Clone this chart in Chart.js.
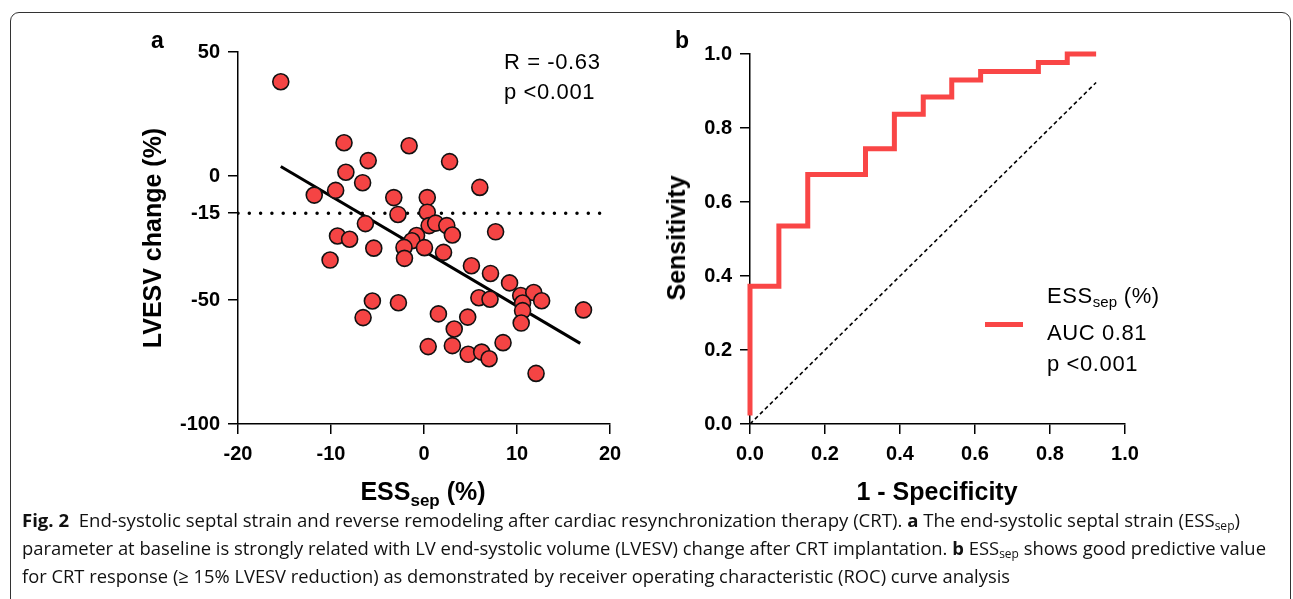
<!DOCTYPE html>
<html>
<head>
<meta charset="utf-8">
<script src="https://cdn.jsdelivr.net/npm/chart.js@4"></script>
<style>
  html, body { margin: 0; padding: 0; background: #fff; }
  body { width: 1293px; height: 599px; position: relative; overflow: hidden; font-family: "Liberation Sans", Arial, sans-serif; color: #000; }
  .frame { position: absolute; left: 10px; top: 12px; width: 1281px; height: 620px; border: 1px solid #333; border-radius: 9px; box-sizing: border-box; }
  canvas { position: absolute; }
  .txt { position: absolute; white-space: nowrap; }
  .panel { font-weight: bold; font-size: 23px; line-height: 30px; }
  .note { font-size: 22px; line-height: 30px; letter-spacing: 0.6px; }
  .axis-title { font-weight: bold; font-size: 25px; line-height: 30px; }
  .vtitle { transform: translate(-50%, -50%) rotate(-90deg); }
  .legend { font-size: 22px; line-height: 31px; letter-spacing: 0.6px; }
  .legend sub { font-size: 15px; vertical-align: -4px; letter-spacing: 0; }
  .axis-title sub { font-size: 17px; vertical-align: -6px; }
  .swatch { position: absolute; left: 985px; top: 322px; width: 38px; height: 5px; background: #f94646; }
  .caption { position: absolute; left: 22px; font-family: "Open Sans", sans-serif; font-size: 18.5px; line-height: 28px; white-space: nowrap; transform-origin: 0 0; color: #111; }
  .caption sub { font-size: 12px; vertical-align: -3px; }
</style>
</head>
<body>
<div class="frame"></div>

<canvas id="scatterChart" width="500" height="490" style="left:130px; top:20px;"></canvas>
<canvas id="rocChart" width="540" height="490" style="left:640px; top:20px;"></canvas>

<div class="txt panel" style="left:151px; top:25px;">a</div>
<div class="txt panel" style="left:675px; top:25px;">b</div>

<div class="txt note" style="left:504px; top:47px;">R = -0.63<br>p &lt;0.001</div>

<div class="txt axis-title vtitle" style="left:152px; top:238px;">LVESV change (%)</div>
<div class="txt axis-title vtitle" style="left:676px; top:238px;">Sensitivity</div>
<div class="txt axis-title" style="left:423px; top:476px; transform: translateX(-50%);">ESS<sub>sep</sub> (%)</div>
<div class="txt axis-title" style="left:937px; top:476px; transform: translateX(-50%);">1 - Specificity</div>

<div class="swatch"></div>
<div class="txt legend" style="left:1047px; top:280px;">ESS<sub>sep</sub> (%)<br>AUC 0.81<br>p &lt;0.001</div>

<div class="caption" id="cap1" data-w="1218" style="top:506px;"><b>Fig. 2</b>&nbsp; End-systolic septal strain and reverse remodeling after cardiac resynchronization therapy (CRT). <b>a</b> The end-systolic septal strain (ESS<sub>sep</sub>)</div>
<div class="caption" id="cap2" data-w="1244" style="top:534px;">parameter at baseline is strongly related with LV end-systolic volume (LVESV) change after CRT implantation. <b>b</b> ESS<sub>sep</sub> shows good predictive value</div>
<div class="caption" id="cap3" data-w="988" style="top:562px;">for CRT response (≥ 15% LVESV reduction) as demonstrated by receiver operating characteristic (ROC) curve analysis</div>

<script>
// 散点图数据 (panel a)
const essSep = [-15.4, -8.6, -1.6, -6.0, 2.75, -8.4, -6.6, 6.0, -9.5, -11.8,
                -3.25, 0.35, -2.8, 0.35, -6.3, 0.55, 1.25, 2.45, 3.05, 7.7,
                -9.3, -8.0, -5.4, -10.1, -0.8, -1.3, -2.15, -2.1, 0.05, 2.1,
                5.1, 7.15, 9.2, 5.9, 7.1, 10.4, 11.8, 12.65, 10.6, 10.6,
                17.15, 10.45, -5.55, -2.75, -6.55, 1.55, 4.7, 3.25, 8.5, 0.45,
                3.05, 4.75, 6.2, 7.0, 12.05];
const lvesvChange = [38.0, 13.4, 12.2, 6.2, 5.8, 1.5, -2.7, -4.6, -5.8, -7.7,
                     -8.7, -8.7, -15.5, -14.6, -19.2, -20.0, -19.0, -20.0, -23.8, -22.5,
                     -24.2, -25.5, -29.1, -33.9, -24.0, -26.1, -28.8, -33.2, -28.9, -30.8,
                     -36.2, -39.3, -43.1, -49.1, -49.7, -48.2, -47.0, -50.3, -51.2, -54.3,
                     -54.0, -59.3, -50.4, -51.1, -57.1, -55.6, -56.9, -61.7, -67.2, -68.8,
                     -68.4, -71.9, -71.0, -73.7, -79.6];
// 回归线与 -15% 阈值线
const fitX = [-15.4, 16.8];
const fitY = [3.8, -67.5];
const cutoffX = [-20, 20];
const cutoffY = [-15, -15];
const scatterXTicks = [-20, -10, 0, 10, 20];
const scatterYTicks = [50, 0, -15, -50, -100];

// ROC 曲线数据 (panel b)
const rocFpr = [0, 0, 0.077, 0.154, 0.308, 0.385, 0.462, 0.538, 0.615, 0.769, 0.846, 0.923];
const rocTpr = [0.023, 0.372, 0.535, 0.674, 0.744, 0.837, 0.884, 0.930, 0.953, 0.977, 1.0, 1.0];
const chanceX = [0, 0.923];
const chanceY = [0, 0.923];
const rocTicks = [0, 0.2, 0.4, 0.6, 0.8, 1.0];

const pointRed = '#f54444';
const lineRed = '#f94646';
const tickFont = { family: '"Liberation Sans", Arial, sans-serif', weight: 'bold', size: 20 };

function zip(xs, ys) {
    return xs.map((x, i) => ({ x: x, y: ys[i] }));
}

function axisStyle(extra) {
    return Object.assign({
        type: 'linear',
        grid: { display: true, drawOnChartArea: false, drawTicks: true, tickLength: 10, color: '#000', lineWidth: 1.5 },
        border: { display: true, color: '#000', width: 1.5 },
        ticks: { font: tickFont, color: '#000', padding: 8, autoSkip: false, maxRotation: 0 }
    }, extra);
}

function fixedTicks(values) {
    return function(scale) {
        scale.ticks = values.map(v => ({ value: v }));
    };
}

// 初始化散点图
function initScatterChart() {
    const ctx = document.getElementById('scatterChart');
    new Chart(ctx.getContext('2d'), {
        type: 'scatter',
        data: {
            datasets: [{
                data: zip(essSep, lvesvChange),
                backgroundColor: pointRed,
                borderColor: '#111',
                borderWidth: 1.6,
                pointRadius: 8,
                clip: false
            }, {
                data: zip(fitX, fitY),
                showLine: true,
                borderColor: '#000',
                borderWidth: 3,
                pointRadius: 0
            }, {
                data: zip(cutoffX, cutoffY),
                showLine: true,
                borderColor: '#000',
                borderWidth: 3.5,
                borderDash: [0, 11.3],
                borderCapStyle: 'round',
                pointRadius: 0
            }]
        },
        options: {
            responsive: false,
            animation: false,
            devicePixelRatio: 1,
            layout: { padding: { left: 0, top: 32, right: 20, bottom: 26 } },
            plugins: { legend: { display: false }, tooltip: { enabled: false } },
            scales: {
                x: axisStyle({
                    min: -20, max: 20,
                    afterBuildTicks: fixedTicks(scatterXTicks),
                    afterFit: s => { s.height = 60; }
                }),
                y: axisStyle({
                    min: -100, max: 50,
                    afterBuildTicks: fixedTicks(scatterYTicks),
                    afterFit: s => { s.width = 108; }
                })
            }
        }
    });
}

// 初始化 ROC 曲线
function initRocChart() {
    const ctx = document.getElementById('rocChart');
    new Chart(ctx.getContext('2d'), {
        type: 'scatter',
        data: {
            datasets: [{
                data: zip(rocFpr, rocTpr),
                showLine: true,
                stepped: 'before',
                borderColor: lineRed,
                borderWidth: 5,
                borderJoinStyle: 'miter',
                pointRadius: 0,
                clip: false
            }, {
                data: zip(chanceX, chanceY),
                showLine: true,
                borderColor: '#000',
                borderWidth: 1.6,
                borderDash: [4, 3],
                pointRadius: 0
            }]
        },
        options: {
            responsive: false,
            animation: false,
            devicePixelRatio: 1,
            layout: { padding: { left: 0, top: 34, right: 55, bottom: 26 } },
            plugins: { legend: { display: false }, tooltip: { enabled: false } },
            scales: {
                x: axisStyle({
                    min: 0, max: 1,
                    afterBuildTicks: fixedTicks(rocTicks),
                    afterFit: s => { s.height = 60; },
                    ticks: { font: tickFont, color: '#000', padding: 8, autoSkip: false, maxRotation: 0, callback: v => Number(v).toFixed(1) }
                }),
                y: axisStyle({
                    min: 0, max: 1,
                    afterBuildTicks: fixedTicks(rocTicks),
                    afterFit: s => { s.width = 110; },
                    ticks: { font: tickFont, color: '#000', padding: 8, autoSkip: false, callback: v => Number(v).toFixed(1) }
                })
            }
        }
    });
}

// 图注行宽对齐
function fitCaptions() {
    document.querySelectorAll('.caption').forEach(function(el) {
        const target = parseFloat(el.getAttribute('data-w'));
        const w = el.getBoundingClientRect().width;
        if (w > 0) el.style.transform = 'scaleX(' + (target / w) + ')';
    });
}

initScatterChart();
initRocChart();
fitCaptions();
</script>
</body>
</html>
